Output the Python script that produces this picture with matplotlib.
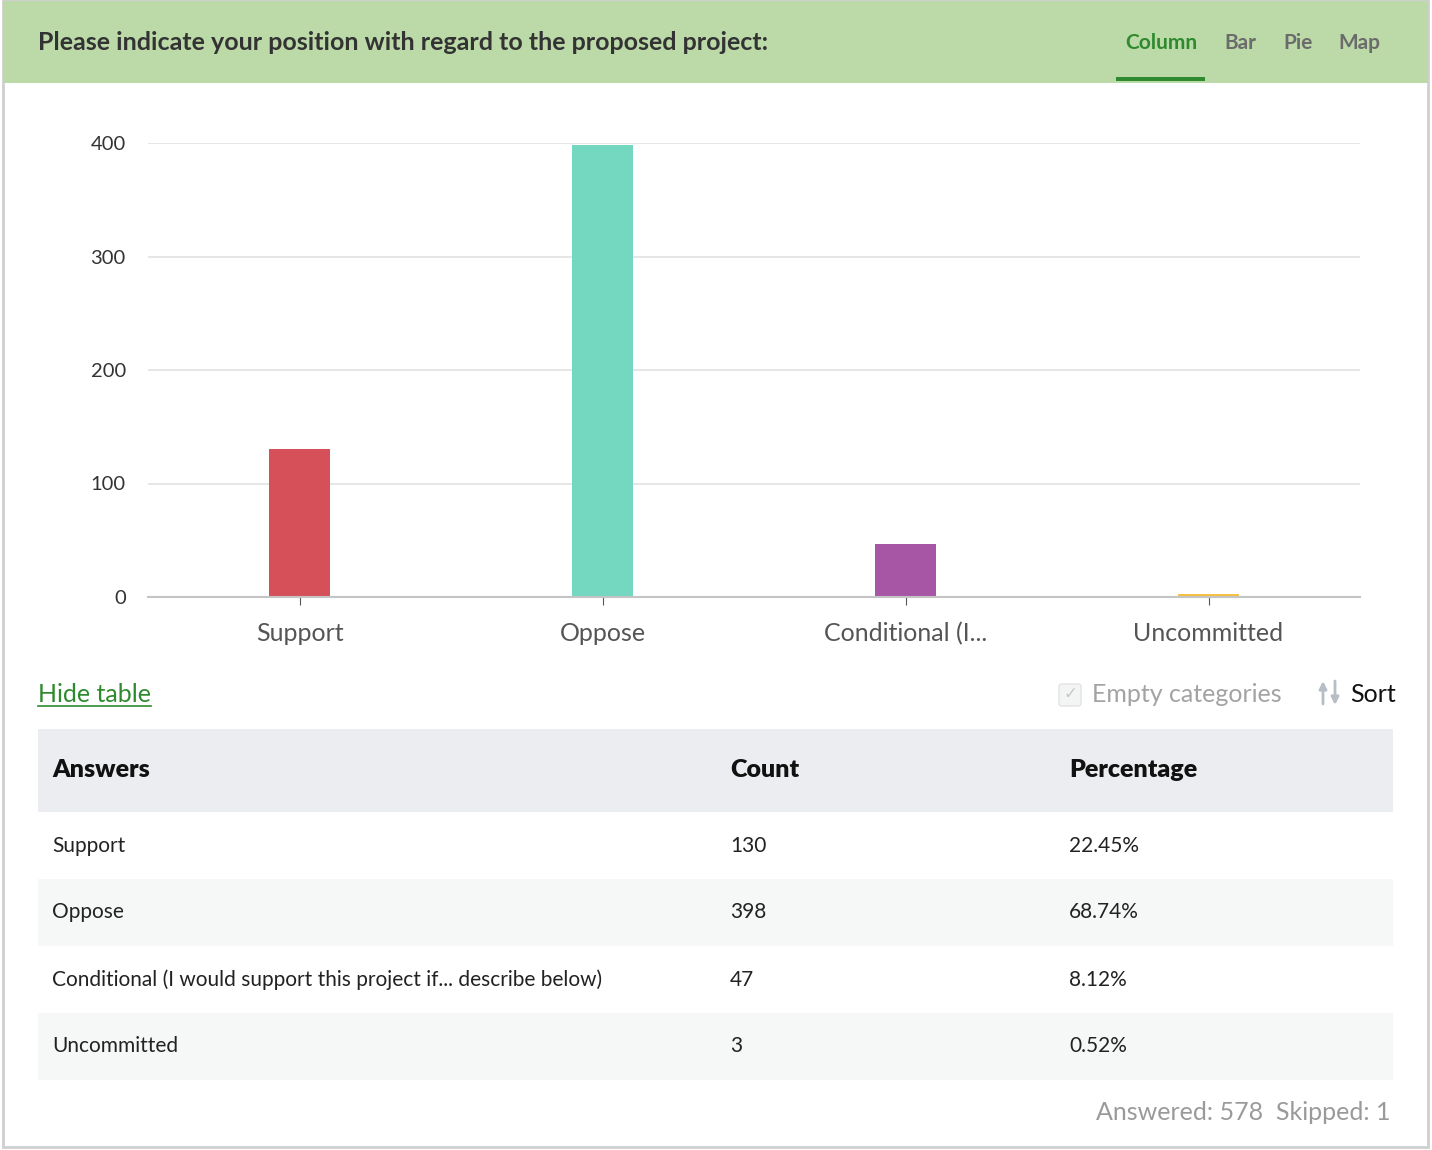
import matplotlib
matplotlib.use("Agg")
import matplotlib.pyplot as plt
from matplotlib.patches import Rectangle, FancyBboxPatch, FancyArrowPatch

# data
short_labels = ["Support", "Oppose", "Conditional (I...", "Uncommitted"]
answers = ["Support", "Oppose",
           "Conditional (I would support this project if... describe below)",
           "Uncommitted"]
counts = [130, 398, 47, 3]
percents = ["22.45%", "68.74%", "8.12%", "0.52%"]
colors = ["#d65059", "#74d7bf", "#a656a5", "#f6c143"]
yticks = [0, 100, 200, 300, 400]

W, H = 1432, 1150
plt.rcParams['font.family'] = ['Lato', 'DejaVu Sans']

fig = plt.figure(figsize=(W / 100, H / 100), dpi=100)
fig.patch.set_facecolor("white")


def fx(x):
    return x / W


def fy(y):
    return 1 - y / H


def rect(x0, y0, x1, y1, **kw):
    fig.patches.append(Rectangle((fx(x0), fy(y1)), fx(x1) - fx(x0), fy(y0) - fy(y1),
                                 transform=fig.transFigure, **kw))


def txt(x, y, s, **kw):
    kw.setdefault("va", "center")
    return fig.text(fx(x), fy(y), s, **kw)


def arrow(x, y0, y1):
    fig.patches.append(FancyArrowPatch((fx(x), fy(y0)), (fx(x), fy(y1)),
                                       transform=fig.transFigure, arrowstyle="-|>",
                                       mutation_scale=11, color="#b7bec6",
                                       linewidth=2, shrinkA=0, shrinkB=0))


# card border + header
rect(3, 0, 1428, 1147, facecolor="white", edgecolor="#cfcfcf", linewidth=2)
rect(3, 1, 1428, 83, facecolor="#bcdaa8", edgecolor="none")
txt(38, 42, "Please indicate your position with regard to the proposed project:",
    fontsize=18, fontweight="bold", color="#333333")
txt(1125, 43, "Column", fontsize=15, fontweight="bold", color="#2f8a2f")
txt(1224, 43, "Bar", fontsize=15, fontweight="bold", color="#6b6b6b")
txt(1283, 43, "Pie", fontsize=15, fontweight="bold", color="#6b6b6b")
txt(1338, 43, "Map", fontsize=15, fontweight="bold", color="#6b6b6b")
rect(1116, 77, 1205, 81, facecolor="#2f8a2f", edgecolor="none")

# column chart
ax = fig.add_axes([fx(148), fy(597), fx(1360) - fx(148), fy(143) - fy(597)])
ax.set_zorder(5)
ax.patch.set_alpha(0)
x = range(len(counts))
ax.bar(x, counts, width=0.2, color=colors, zorder=3)
ax.set_xlim(-0.5, len(counts) - 0.5)
ax.set_ylim(0, 400)
ax.set_yticks(yticks)
ax.set_yticklabels([str(v) for v in yticks], fontsize=14.5, color="#333333")
ax.set_xticks(list(x))
ax.set_xticklabels(short_labels, fontsize=18, color="#555555")
ax.yaxis.grid(True, color="#e2e2e2", linewidth=1.2, zorder=0)
for s in ["top", "right", "left"]:
    ax.spines[s].set_visible(False)
ax.spines["bottom"].set_color("#c4c4c4")
ax.spines["bottom"].set_linewidth(1.5)
ax.spines["bottom"].set_zorder(4)
ax.tick_params(axis="y", length=0, pad=16)
ax.tick_params(axis="x", length=6, color="#555555", pad=12)
ax.set_axisbelow(True)

# controls under chart
txt(38, 695, "Hide table", fontsize=18, color="#2f8a2f")
fig.lines.append(plt.Line2D([fx(38), fx(151)], [fy(706), fy(706)],
                            transform=fig.transFigure, color="#2f8a2f", linewidth=1.2))
fig.patches.append(FancyBboxPatch((fx(1059), fy(706)), fx(22), fy(0) - fy(22),
                                  boxstyle="round,pad=0,rounding_size=0.002",
                                  transform=fig.transFigure, facecolor="#f3f4f4",
                                  edgecolor="#e3e3e3", linewidth=1))
txt(1070, 694, "\u2713", fontsize=12, color="#c8c8c8", ha="center", family=["DejaVu Sans"])
txt(1092, 695, "Empty categories", fontsize=18, color="#a3a3a3")
arrow(1323, 704, 681)
arrow(1335, 681, 705)
txt(1350, 695, "Sort", fontsize=18, color="#111111")

# table
rect(38, 729, 1393, 812, facecolor="#ecedf1", edgecolor="none")
col_x = [52, 730, 1069]
for cx, head in zip(col_x, ["Answers", "Count", "Percentage"]):
    txt(cx, 770, head, fontsize=18, fontweight="heavy", color="#111111")
row_top = 812
row_h = 67
for i, (a, c, p) in enumerate(zip(answers, counts, percents)):
    y0 = row_top + i * row_h
    if i % 2 == 1:
        rect(38, y0, 1393, y0 + row_h, facecolor="#f6f8f7", edgecolor="none")
    yc = y0 + row_h / 2
    txt(col_x[0], yc, a, fontsize=15, color="#222222")
    txt(col_x[1], yc, str(c), fontsize=15, color="#222222")
    txt(col_x[2], yc, p, fontsize=15, color="#222222")

txt(1391, 1113, "Answered: 578  Skipped: 1", fontsize=18, color="#9a9a9a", ha="right")

fig.savefig("out.png", dpi=100)
